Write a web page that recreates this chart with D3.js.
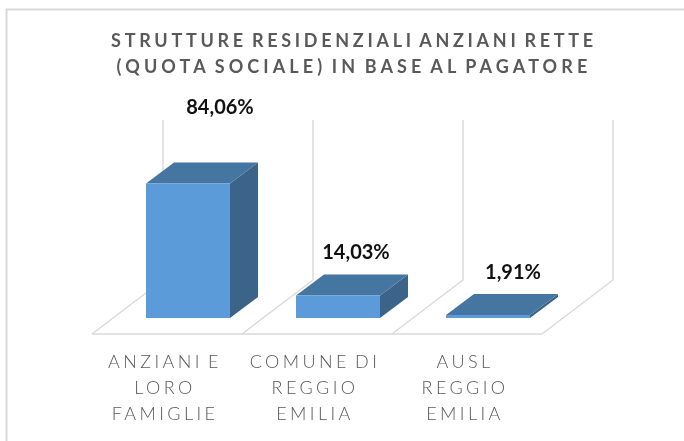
<!DOCTYPE html>
<html><head><meta charset="utf-8">
<script src="https://cdn.jsdelivr.net/npm/d3@7"></script>
<style>html,body{margin:0;padding:0;background:#fff}svg{display:block;filter:blur(0.35px)}text{font-family:Lato,"Open Sans",sans-serif}</style>
</head><body><svg id="c" width="684" height="441"></svg>
<script>
const categories = [["ANZIANI E","LORO","FAMIGLIE"],["COMUNE DI","REGGIO","EMILIA"],["AUSL","REGGIO","EMILIA"]];
const values = [84.06, 14.03, 1.91];
const labels = ["84,06%","14,03%","1,91%"];
const titleLines = ["STRUTTURE RESIDENZIALI ANZIANI RETTE","(QUOTA SOCIALE) IN BASE AL PAGATORE"];

const svg = d3.select("#c");
const x = d3.scaleBand().domain(d3.range(categories.length)).range([113,563]).paddingInner(0.44).paddingOuter(0.22);
const y = d3.scaleLinear().domain([0,100]).range([318,158]);
const bar = {dx:28, dy:-21};
const back = {dx:50, dy:-38};
const front = {dx:-21, dy:16};
const labelNudge = [[32,-77],[18,-44],[25,-43]];
const titleSpacing = [3.7, 4.1];
const poly = p => p.map(q=>q.join(",")).join(" ");

// chart frame
svg.append("path").attr("d","M684,9.5H6.5V441").attr("fill","none").attr("stroke","#d9d9d9").attr("stroke-width",2);

// floor and walls
const grid = svg.append("g").attr("fill","none").attr("stroke","#d9d9d9").attr("stroke-width",1.4);
const step = x.step();
const x0 = x.range()[0];
const wallXs = d3.range(categories.length+1).map(i=>x0+i*step);
wallXs.forEach(w=>{
  grid.append("polyline").attr("points",poly([
    [w+back.dx,y(100)+back.dy],[w+back.dx,y(0)+back.dy],[w+front.dx,y(0)+front.dy]]));
});
grid.append("line").attr("x1",wallXs[0]+front.dx).attr("x2",wallXs[3]+front.dx)
  .attr("y1",y(0)+front.dy).attr("y2",y(0)+front.dy);

// bars
const g = svg.append("g").selectAll("g").data(values).join("g");
g.append("polygon").attr("fill","#3b6488").attr("points",(d,i)=>{
  const r=x(i)+x.bandwidth();
  return poly([[r,y(d)],[r+bar.dx,y(d)+bar.dy],[r+bar.dx,y(0)+bar.dy],[r,y(0)]]);
});
g.append("polygon").attr("fill","#4575a1").attr("points",(d,i)=>{
  const l=x(i), r=l+x.bandwidth();
  return poly([[l,y(d)],[l+bar.dx,y(d)+bar.dy],[r+bar.dx,y(d)+bar.dy],[r,y(d)]]);
});
g.append("rect").attr("fill","#5b9bd9")
  .attr("x",(d,i)=>x(i)).attr("width",x.bandwidth())
  .attr("y",d=>y(d)).attr("height",d=>y(0)-y(d));

// value labels
svg.append("g").selectAll("text").data(labels).join("text")
  .attr("x",(d,i)=>x(i)+x.bandwidth()/2+labelNudge[i][0])
  .attr("y",(d,i)=>y(values[i])+labelNudge[i][1]+7)
  .attr("text-anchor","middle").attr("font-size",20).attr("font-weight",700)
  .attr("fill","#111").text(d=>d);

// category labels
const cat = svg.append("g").selectAll("g").data(categories).join("g");
cat.each(function(lines,i){
  d3.select(this).selectAll("text").data(lines).join("text")
    .attr("x",x(i)+x.bandwidth()/2-23)
    .attr("y",(d,j)=>368+j*26)
    .attr("text-anchor","middle").attr("font-size",18).attr("font-weight",300)
    .attr("letter-spacing",3.4).attr("word-spacing",-3).attr("fill","#595959").text(d=>d);
});

// title
svg.append("g").selectAll("text").data(titleLines).join("text")
  .attr("x",354).attr("y",(d,i)=>47+i*26)
  .attr("text-anchor","middle").attr("font-size",18).attr("font-weight",700)
  .attr("letter-spacing",(d,i)=>titleSpacing[i]).attr("word-spacing",-3).attr("fill","#595959").text(d=>d);
</script></body></html>
